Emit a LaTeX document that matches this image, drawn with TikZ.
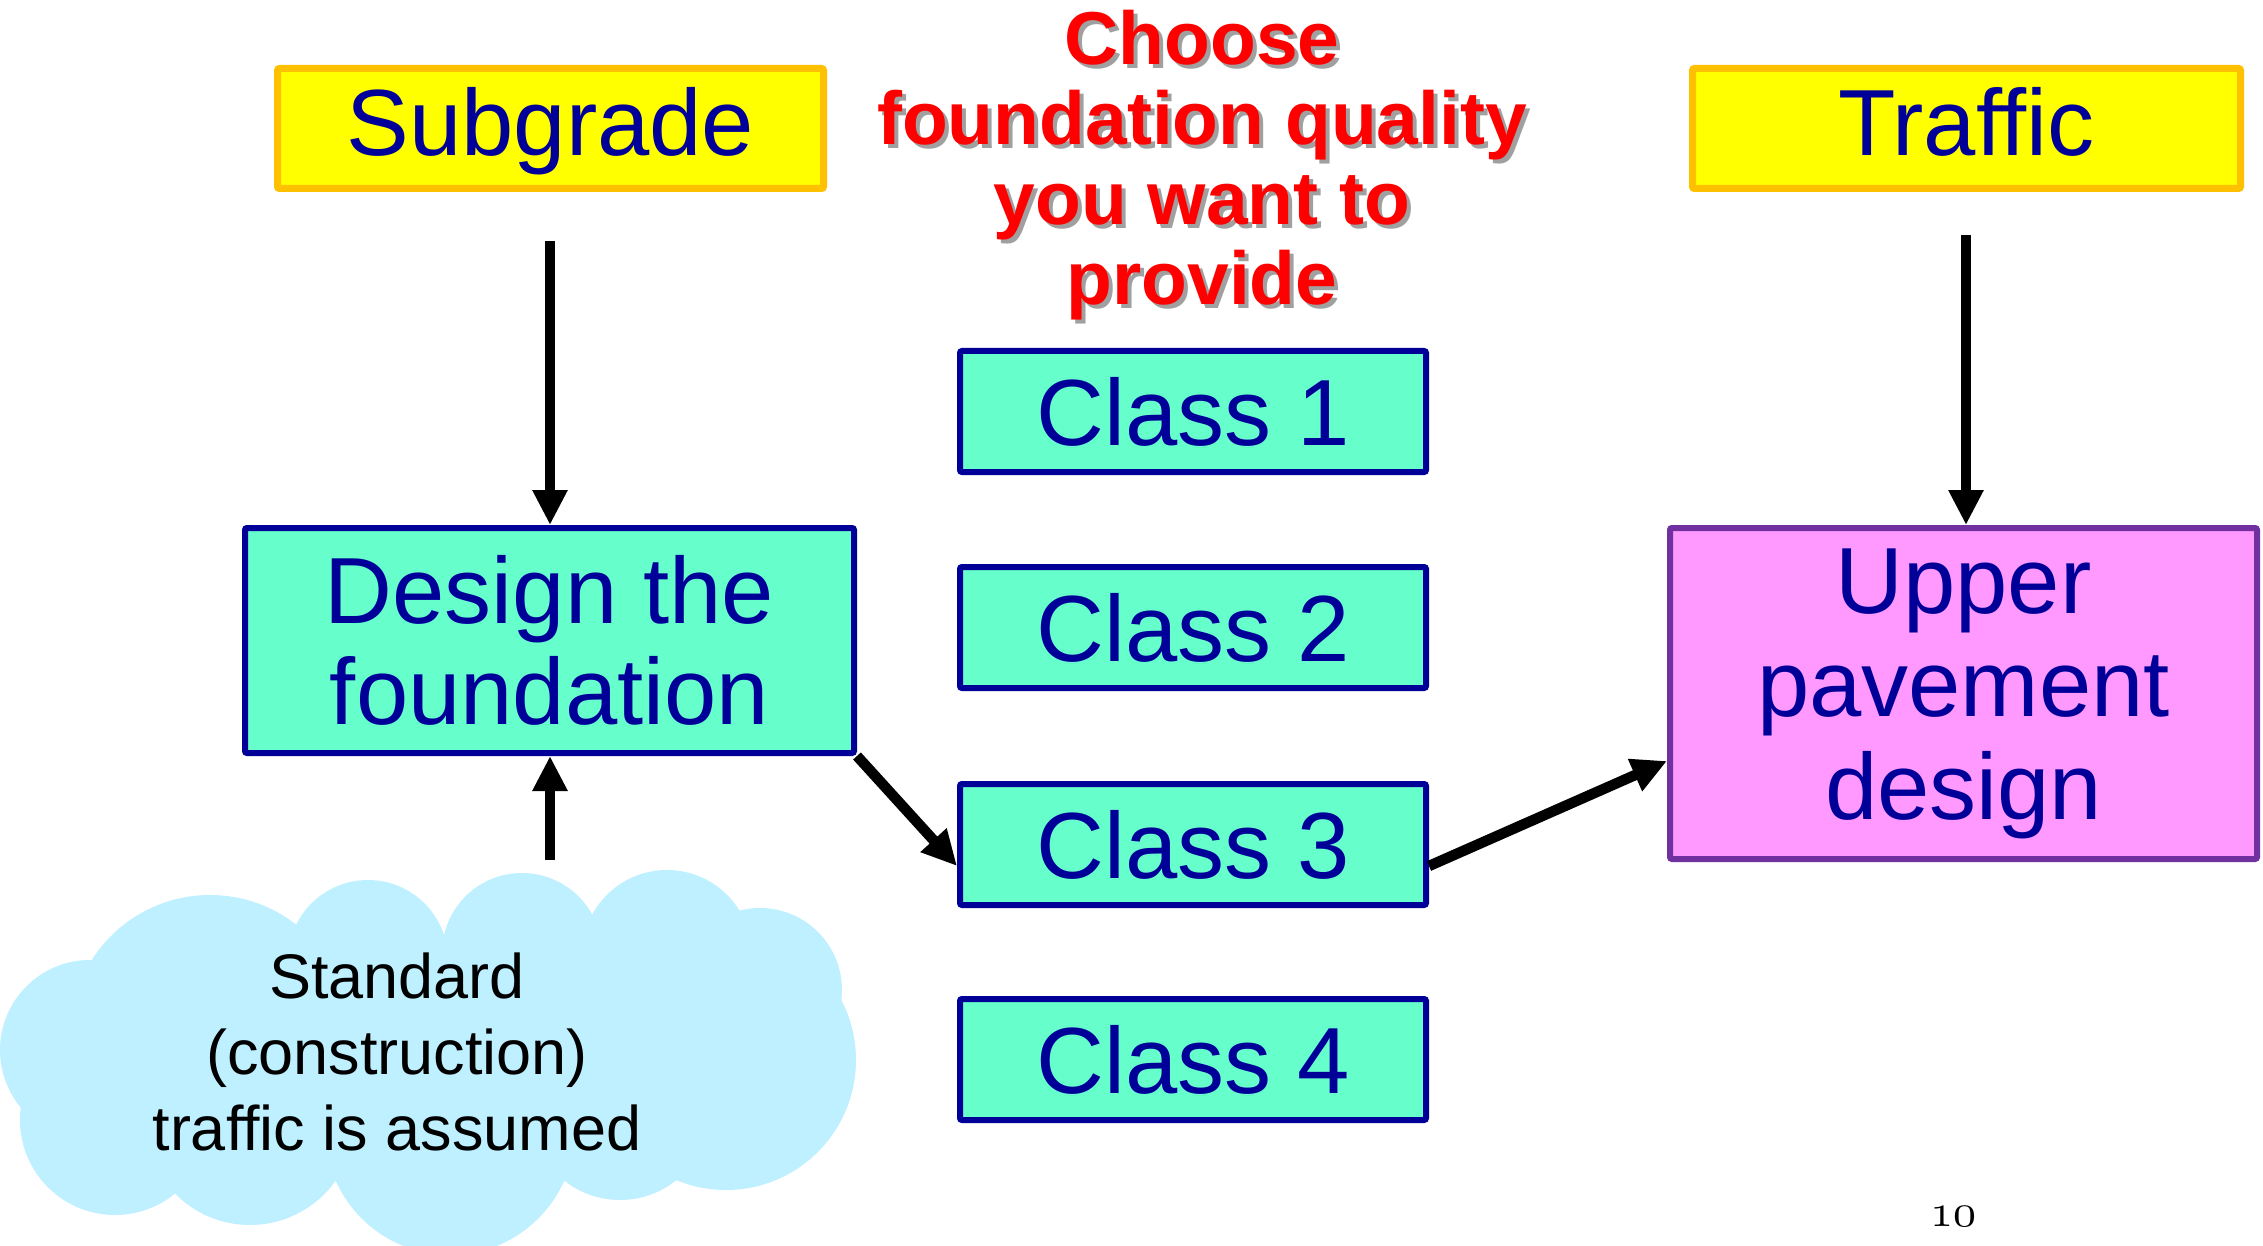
\documentclass[tikz,border=0pt]{standalone}
\usepackage{fontspec}
\setmainfont{Liberation Sans}
\usetikzlibrary{arrows.meta}

\definecolor{ink}{RGB}{0,0,153}
\definecolor{subfill}{RGB}{255,255,0}
\definecolor{subline}{RGB}{255,192,0}
\definecolor{classfill}{RGB}{102,255,204}
\definecolor{pinkfill}{RGB}{255,153,255}
\definecolor{purpleline}{RGB}{112,48,160}
\definecolor{cloudfill}{RGB}{191,240,255}
\definecolor{shadowgray}{RGB}{160,160,160}

\tikzset{
  bigtext/.style={text=ink, align=center, font=\fontsize{94}{101}\selectfont},
  inputbox/.style={bigtext, draw=subline, fill=subfill, line width=7pt, inner sep=0pt,
    rounded corners=2pt, minimum height=120pt, text height=71pt, text depth=17pt},
  classbox/.style={bigtext, draw=ink, fill=classfill, line width=6pt, inner sep=0pt,
    rounded corners=2pt, minimum width=466pt, minimum height=121pt},
  stagebox/.style={bigtext, draw=ink, fill=classfill, line width=6pt, inner sep=0pt,
    rounded corners=2pt},
  outbox/.style={bigtext, draw=purpleline, fill=pinkfill, line width=6pt, inner sep=0pt,
    rounded corners=2pt, font=\fontsize{94}{103}\selectfont},
  flow/.style={line width=10.5pt, -{Triangle[length=35pt,width=33pt]}},
  headline/.style={align=center, font=\fontsize{75}{80}\selectfont\bfseries},
}

\begin{document}
\begin{tikzpicture}[x=1pt,y=-1pt]
  \fill[white] (0,0) rectangle (2263,1246);
  \useasboundingbox (0,0) rectangle (2263,1246);

  % heading with its drop shadow
  \node[headline, text=shadowgray] (titleshadow) at (1206,169)
    {Choose\\foundation quality\\you want to\\provide};
  \node[headline, text=red] (title) at (1202,165)
    {Choose\\foundation quality\\you want to\\provide};

  % inputs
  \node[inputbox, minimum width=546pt] (sub) at (550.5,128.5) {Subgrade};
  \node[inputbox, minimum width=548pt] (trf) at (1966.5,128.5) {Traffic};

  % foundation classes
  \node[classbox] (c1) at (1193,411.5) {Class 1};
  \node[classbox] (c2) at (1193,627.5) {Class 2};
  \node[classbox] (c3) at (1193,844.5) {Class 3};
  \node[classbox] (c4) at (1193,1059.5) {Class 4};

  % design stages
  \node[stagebox, minimum width=609pt, minimum height=225pt] (dsn) at (549.5,640.5)
    {Design the\\foundation};
  \node[outbox, minimum width=587pt, minimum height=331pt] (upd) at (1963.5,693.5)
    {Upper\\pavement\\design};

  % cloud made of overlapping discs
  \begin{scope}[fill=cloudfill]
    \fill (150,960) rectangle (750,1180);
    \fill (210,1035) circle (140);
    \fill (368,960) circle (80);
    \fill (522,953) circle (80);
    \fill (667,955) circle (85);
    \fill (760,990) circle (82);
    \fill (726,1060) circle (130);
    \fill (620,1110) circle (90);
    \fill (450,1130) circle (125);
    \fill (250,1120) circle (105);
    \fill (115,1120) circle (95);
    \fill (90,1050) circle (90);
  \end{scope}
  \node[align=center, font=\fontsize{63}{76}\selectfont] (std) at (397,1052)
    {Standard\\(construction)\\traffic is assumed};

  % connector end points
  \coordinate (subfoot) at (550,241);
  \coordinate (trffoot) at (1966,235);
  \coordinate (cloudtop) at (550,860);
  \coordinate (c3in) at (957,866);
  \coordinate (c3out) at (1429,866);
  \coordinate (updin) at (1667,761);

  \draw[flow] (subfoot) -- (subfoot |- dsn.north);
  \draw[flow] (trffoot) -- (trffoot |- upd.north);
  \draw[flow] (cloudtop) -- (cloudtop |- dsn.south);
  \draw[flow] (dsn.south east) -- (c3in);
  \draw[flow] (c3out) -- (updin);

  % slide number
  \node[scale=4.6] (pagenum) at (1953,1217) {\usefont{OML}{lmm}{m}{it}10};
\end{tikzpicture}
\end{document}
